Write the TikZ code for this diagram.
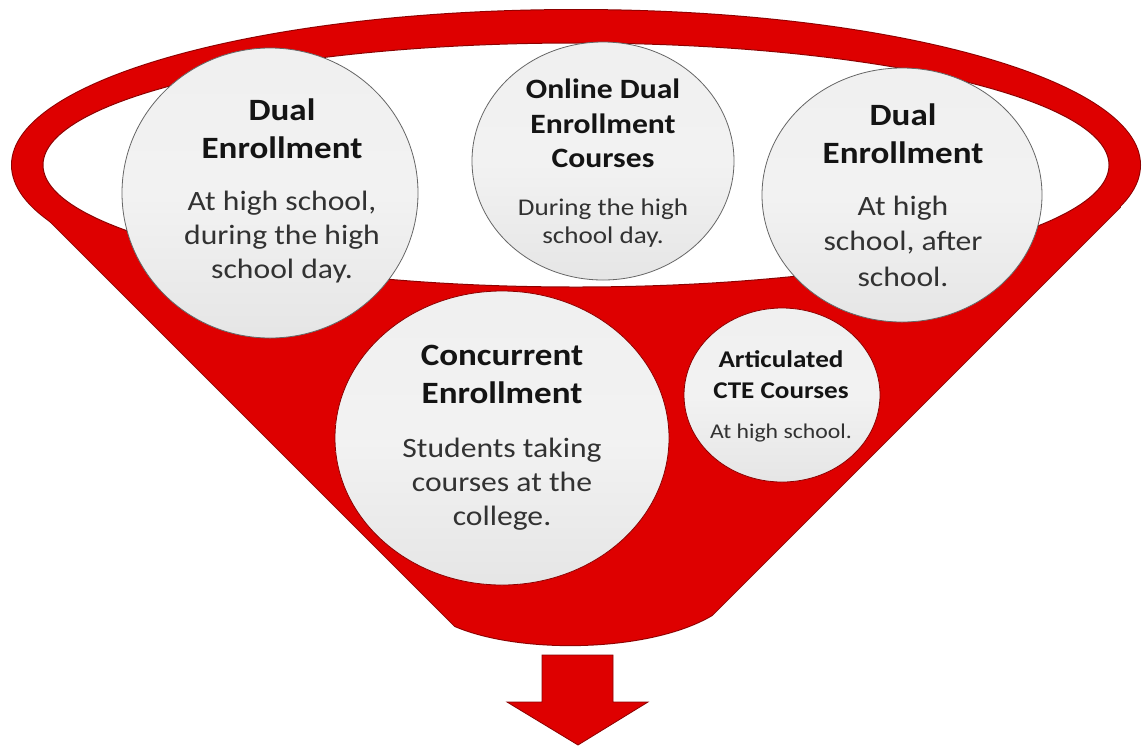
\documentclass[tikz,border=0pt]{standalone}
\usepackage{fontspec}
\setmainfont{Carlito}[FakeStretch=1.13]
\usetikzlibrary{shapes.geometric}
\definecolor{funred}{RGB}{222,0,0}
\definecolor{fundark}{RGB}{140,0,0}
\definecolor{ttlc}{RGB}{20,20,20}
\definecolor{bdyc}{RGB}{50,50,50}
\tikzset{
  bubble/.style={ellipse, inner sep=0pt, draw=black!60, line width=0.8pt,
                 top color=black!6, bottom color=black!10, middle color=black!5},
  ttl/.style={font=\bfseries\fontsize{31}{38}\selectfont, text=ttlc, anchor=base, inner sep=0pt},
  bdy/.style={font=\fontsize{28}{34}\selectfont, text=bdyc, anchor=base, inner sep=0pt},
  ttlm/.style={font=\bfseries\fontsize{28}{34}\selectfont, text=ttlc, anchor=base, inner sep=0pt},
  bdym/.style={font=\fontsize{24}{29}\selectfont, text=bdyc, anchor=base, inner sep=0pt},
  ttls/.style={font=\bfseries\fontsize{24}{30}\selectfont, text=ttlc, anchor=base, inner sep=0pt},
  bdys/.style={font=\fontsize{21}{26}\selectfont, text=bdyc, anchor=base, inner sep=0pt},
}
\begin{document}
\begin{tikzpicture}[x=1pt,y=-1pt]
\useasboundingbox (0,0) rectangle (1145,748);
% funnel outline (drawn first, fills cover inner half)
\draw[fundark, line width=2pt] (576,165) ellipse [x radius=564pt, y radius=155pt];
\draw[fundark, line width=2pt, line join=round] (30,201) -- (455,626) .. controls (520,654) and (650,652) .. (712,615) -- (1120,207) -- (1100,165) -- (50,165) -- cycle;
\fill[funred] (576,165) ellipse [x radius=564pt, y radius=155pt];
\fill[funred] (30,201) -- (455,626) .. controls (520,654) and (650,652) .. (712,615) -- (1120,207) -- (1100,165) -- (50,165) -- cycle;
% inner opening
\fill[white, draw=fundark, line width=1pt] (576,165) ellipse [x radius=533pt, y radius=122pt];
% arrow
\fill[funred, draw=fundark, line width=0.8pt, line join=miter] (542,655) -- (613,655) -- (613,702) -- (648,702) -- (578,745) -- (507,702) -- (542,702) -- cycle;

% bubbles
\node[bubble, minimum width=296pt, minimum height=290pt] (b1) at (270,193) {};
\node[bubble, minimum width=262pt, minimum height=238pt] (b2) at (603,161) {};
\node[bubble, minimum width=280pt, minimum height=254pt] (b3) at (902,195) {};
\node[bubble, minimum width=334pt, minimum height=294pt, draw=fundark] (b4) at (502,438) {};
\node[bubble, minimum width=196pt, minimum height=174pt, draw=fundark] (b5) at (782,395) {};

% texts: left dual
\node[ttl] (b1t1) at (282,120) {Dual};
\node[ttl] (b1t2) at (282,158) {Enrollment};
\node[bdy] (b1b1) at (282,210) {At high school,};
\node[bdy] (b1b2) at (282,244) {during the high};
\node[bdy] (b1b3) at (282,278) {school day.};
% online
\node[ttlm] (b2t1) at (603,98) {Online Dual};
\node[ttlm] (b2t2) at (603,133) {Enrollment};
\node[ttlm] (b2t3) at (603,167) {Courses};
\node[bdym] (b2b1) at (603,215) {During the high};
\node[bdym] (b2b2) at (603,243) {school day.};
% right dual
\node[ttl] (b3t1) at (903,125) {Dual};
\node[ttl] (b3t2) at (903,163) {Enrollment};
\node[bdy] (b3b1) at (903,215) {At high};
\node[bdy] (b3b2) at (903,250) {school, after};
\node[bdy] (b3b3) at (903,286) {school.};
% concurrent
\node[ttl] (b4t1) at (502,365) {Concurrent};
\node[ttl] (b4t2) at (502,403) {Enrollment};
\node[bdy] (b4b1) at (502,457) {Students taking};
\node[bdy] (b4b2) at (502,491) {courses at the};
\node[bdy] (b4b3) at (502,525) {college.};
% articulated
\node[ttls] (b5t1) at (781,367) {Articulated};
\node[ttls] (b5t2) at (781,398) {CTE Courses};
\node[bdys] (b5b1) at (781,438) {At high school.};
\end{tikzpicture}
\end{document}
